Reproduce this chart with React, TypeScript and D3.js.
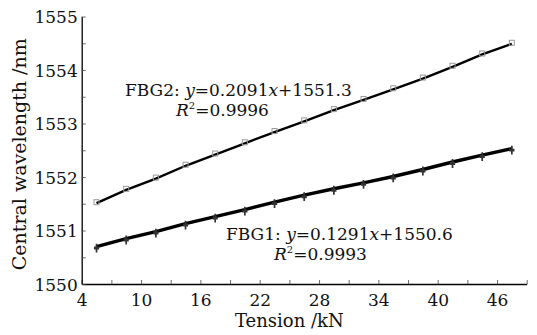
import React, { useEffect, useRef } from 'react';
import * as d3 from 'd3';

// tension values (kN) for each measurement
const tension = [5.5, 8.5, 11.5, 14.5, 17.5, 20.5, 23.5, 26.5, 29.5, 32.5, 35.5, 38.5, 41.5, 44.5, 47.5];
const fbg1 = [1550.70, 1550.85, 1550.98, 1551.13, 1551.26, 1551.39, 1551.53, 1551.66, 1551.78, 1551.89, 1552.01, 1552.14, 1552.28, 1552.41, 1552.53];
const fbg2 = [1551.51, 1551.76, 1551.97, 1552.21, 1552.42, 1552.63, 1552.84, 1553.04, 1553.25, 1553.44, 1553.64, 1553.84, 1554.06, 1554.29, 1554.49];

const xTicks = [4, 7, 10, 13, 16, 19, 22, 25, 28, 31, 34, 37, 40, 43, 46, 49];
const xLabels = [4, 10, 16, 22, 28, 34, 40, 46];
const yTicks = [1550, 1550.5, 1551, 1551.5, 1552, 1552.5, 1553, 1553.5, 1554, 1554.5, 1555];
const yLabels = [1550, 1551, 1552, 1553, 1554, 1555];

const W = 537;
const H = 335;
const FONT = "'DejaVu Serif', 'Liberation Serif', serif";

const App = () => {
  const svgRef = useRef<SVGSVGElement>(null);

  useEffect(() => {
    const margin = { top: 16.5, right: 10.3, bottom: 51, left: 81.7 };
    const width = W - margin.left - margin.right;
    const height = H - margin.top - margin.bottom;

    const svg = d3.select(svgRef.current);
    svg.selectAll('*').remove();

    const x = d3.scaleLinear().domain([4, 49]).range([0, width]);
    const y = d3.scaleLinear().domain([1550, 1555]).range([height, 0]);

    const g = svg.append('g').attr('transform', `translate(${margin.left},${margin.top})`);

    // axes: ticks point inward
    const xAxis = g.append('g')
      .attr('transform', `translate(0,${height})`)
      .call(d3.axisBottom(x).tickValues(xTicks).tickSize(-4).tickSizeOuter(0)
        .tickFormat(d => (xLabels.includes(+d) ? String(d) : '')));
    xAxis.select('.domain').attr('stroke', '#000').attr('stroke-width', 1.3);
    xAxis.selectAll('.tick line').attr('stroke', '#444').attr('stroke-width', 0.8);
    xAxis.selectAll('.tick text')
      .attr('y', 10).attr('dy', '0.71em')
      .style('font-family', FONT).style('font-size', '17px').attr('fill', '#111');

    const yAxis = g.append('g')
      .call(d3.axisLeft(y).tickValues(yTicks).tickSize(-4).tickSizeOuter(0)
        .tickFormat(d => (yLabels.includes(+d) ? String(d) : '')));
    yAxis.select('.domain').attr('stroke', '#000').attr('stroke-width', 1.3);
    yAxis.selectAll('.tick line').attr('stroke', '#444').attr('stroke-width', 0.8);
    yAxis.selectAll('.tick text')
      .attr('x', -4).attr('dy', '0.36em')
      .style('font-family', FONT).style('font-size', '17px').attr('fill', '#111');

    // axis titles
    svg.append('text')
      .attr('x', margin.left + x(25))
      .attr('y', 327)
      .attr('text-anchor', 'middle')
      .style('font-family', FONT).style('font-size', '18px').attr('fill', '#111')
      .text('Tension /kN');

    svg.append('text')
      .attr('transform', `translate(26,${margin.top + height / 2 + 4}) rotate(-90)`)
      .attr('text-anchor', 'middle')
      .style('font-family', FONT).style('font-size', '19px').attr('fill', '#111')
      .text('Central wavelength /nm');

    const rows1 = tension.map((t, i) => ({ t, v: fbg1[i] }));
    const rows2 = tension.map((t, i) => ({ t, v: fbg2[i] }));
    const line = d3.line<{ t: number; v: number }>().x(d => x(d.t)).y(d => y(d.v));

    // FBG2: thin line, small grey squares
    g.append('path').datum(rows2).attr('fill', 'none').attr('stroke', '#000').attr('stroke-width', 2.4).attr('d', line);
    g.selectAll('.sq').data(rows2).enter().append('rect')
      .attr('x', d => x(d.t) - 2.5).attr('y', d => y(d.v) - 3.5)
      .attr('width', 5).attr('height', 5)
      .attr('fill', 'none').attr('stroke', '#999').attr('stroke-width', 1);

    // FBG1: thick line, star markers
    g.append('path').datum(rows1).attr('fill', 'none').attr('stroke', '#000').attr('stroke-width', 3.4).attr('d', line);
    const star = d3.symbol().type(d3.symbolTimes).size(40);
    const cross = d3.symbol().type(d3.symbolCross).size(30);
    rows1.forEach(d => {
      g.append('path').attr('d', star()).attr('transform', `translate(${x(d.t)},${y(d.v) + 1.5})`)
        .attr('fill', '#333');
      g.append('path').attr('d', cross()).attr('transform', `translate(${x(d.t)},${y(d.v) + 1.5}) scale(0.7,1.2)`)
        .attr('fill', '#333');
    });

    // equation annotations
    const eq = (ox: number, oy: number, name: string, k: string, b: string, r2: string, rx: number) => {
      const t1 = svg.append('text').attr('x', ox).attr('y', oy)
        .style('font-family', FONT).style('font-size', '17px').attr('fill', '#111');
      t1.append('tspan').text(`${name}: `);
      t1.append('tspan').style('font-style', 'italic').text('y');
      t1.append('tspan').text(`=${k}`);
      t1.append('tspan').style('font-style', 'italic').text('x');
      t1.append('tspan').text(`+${b}`);

      const t2 = svg.append('text').attr('x', rx).attr('y', oy + 20)
        .style('font-family', FONT).style('font-size', '17px').attr('fill', '#111');
      t2.append('tspan').style('font-style', 'italic').text('R');
      t2.append('tspan').attr('dy', -7).style('font-size', '10px').text('2');
      t2.append('tspan').attr('dy', 7).text(`=${r2}`);
    };
    eq(125, 96, 'FBG2', '0.2091', '1551.3', '0.9996', 176);
    eq(226, 240, 'FBG1', '0.1291', '1550.6', '0.9993', 274);
  }, []);

  return (
    <svg ref={svgRef} width={W} height={H}
      style={{ position: 'absolute', left: 0, top: 0, background: '#fff' }} />
  );
};

export default App;
